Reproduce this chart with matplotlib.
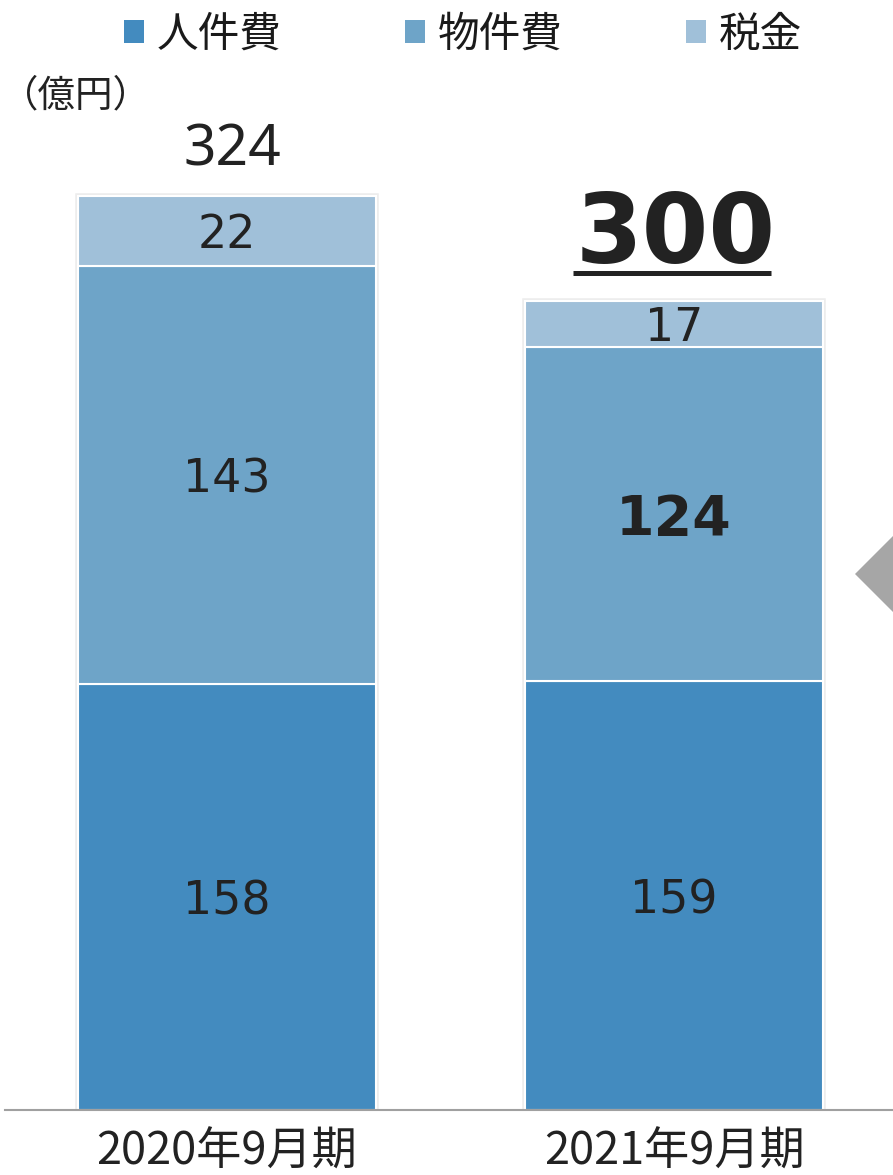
import os
import matplotlib
import matplotlib.pyplot as plt
from matplotlib.font_manager import FontProperties
from matplotlib.lines import Line2D
from matplotlib.patches import Patch, Polygon

plt.rcParams['font.family'] = ['Noto Sans CJK JP', 'DejaVu Sans']

periods = ['2020年9月期', '2021年9月期']
series_names = ['人件費', '物件費', '税金']

# values printed on the chart
personnel = [158, 159]
property_cost = [143, 124]
tax = [22, 17]
totals = [324, 300]

# segment lengths as drawn in the source picture (2020 bar is drawn taller than its labels)
personnel_drawn = [158, 159]
property_drawn = [155, 124]
tax_drawn = [26, 17]

colors = ['#438BBF', '#6EA4C8', '#A0C0D9']
TEXT = '#222222'

ttf_dir = os.path.join(matplotlib.get_data_path(), 'fonts', 'ttf')
dv_regular = os.path.join(ttf_dir, 'DejaVuSans.ttf')
dv_bold = os.path.join(ttf_dir, 'DejaVuSans-Bold.ttf')

W, H = 893, 1175
fig = plt.figure(figsize=(W / 100, H / 100), dpi=100)
ax = fig.add_axes([5 / W, 65 / H, 888 / W, 1110 / H])

x = list(range(len(periods)))
bar_w = 0.667
drawn_total = [a + b + c for a, b, c in zip(personnel_drawn, property_drawn, tax_drawn)]

# soft grey glow behind each stack
ax.bar(x, drawn_total, width=bar_w, color='#ebebeb', edgecolor='#ededed',
       linewidth=4, zorder=1)

stacks = [(personnel_drawn, personnel), (property_drawn, property_cost), (tax_drawn, tax)]
bottom = [0, 0]
for k, (drawn, vals) in enumerate(stacks):
    ax.bar(x, drawn, bottom=bottom, width=bar_w, color=colors[k],
           edgecolor='white', linewidth=1.5, zorder=2)
    for i in x:
        mid = bottom[i] + drawn[i] / 2
        bold = (k == 1 and i == 1)
        fp = FontProperties(fname=dv_bold if bold else dv_regular, size=40 if bold else 33)
        ax.text(i, mid, str(vals[i]), ha='center', va='center_baseline',
                fontproperties=fp, color=TEXT, zorder=4)
    bottom = [b + d for b, d in zip(bottom, drawn)]

# totals above the bars
ax.annotate(str(totals[0]), xy=(x[0], drawn_total[0]), xytext=(4, 21.5),
            textcoords='offset points', ha='center', va='baseline',
            fontsize=41, family='Noto Sans', color=TEXT)
big_off = 27.5
big = ax.annotate(str(totals[1]), xy=(x[1], drawn_total[1]), xytext=(1, big_off),
                  textcoords='offset points', ha='center', va='baseline',
                  fontproperties=FontProperties(fname=dv_bold, size=69), color=TEXT)

# period labels under the axis
for i in x:
    ax.annotate(periods[i], xy=(i, 0), xycoords=('data', 'axes fraction'),
                xytext=(0, -46.5), textcoords='offset points', ha='center',
                va='bottom', fontsize=32.5, color=TEXT)

ax.set_xlim(-(227 - 5) / 447, 1 + (893 - 674) / 447)
ax.set_ylim(0, 1110 / 2.697)
for s in ['top', 'left', 'right']:
    ax.spines[s].set_visible(False)
ax.spines['bottom'].set_color('#a0a0a0')
ax.spines['bottom'].set_linewidth(1.5)
ax.set_xticks([])
ax.set_yticks([])

handles = [Patch(facecolor=c, edgecolor='none') for c in colors]
ax.legend(handles, series_names, ncol=3, loc='center',
          bbox_to_anchor=(463 / W, 1 - 35 / H), bbox_transform=fig.transFigure,
          frameon=False, fontsize=30, handlelength=0.48, handleheight=0.48,
          handletextpad=0.3, columnspacing=2.97, borderpad=0, borderaxespad=0,
          labelcolor='#1a1a1a')

fig.text(0.5 / W, 1 - 96 / H, '（億円）', ha='left', va='center', fontsize=27, color=TEXT)

# grey arrow head at the right edge
fig.add_artist(Polygon([(855 / W, 1 - 574 / H), (935 / W, 1 - 494 / H), (935 / W, 1 - 654 / H)],
                       closed=True, facecolor='#a6a6a6', edgecolor='none',
                       transform=fig.transFigure))

# underline the 2021 total
fig.canvas.draw()
bb = big.get_window_extent()
base_y = ax.transData.transform((x[1], drawn_total[1]))[1] + big_off * 100 / 72
y_line = (base_y - 10.5) / H
fig.add_artist(Line2D([(bb.x0 - 2) / W, (bb.x1 - 4) / W], [y_line, y_line],
                      color=TEXT, linewidth=3.6, solid_capstyle='butt',
                      transform=fig.transFigure))

fig.savefig('out.png', dpi=100)
